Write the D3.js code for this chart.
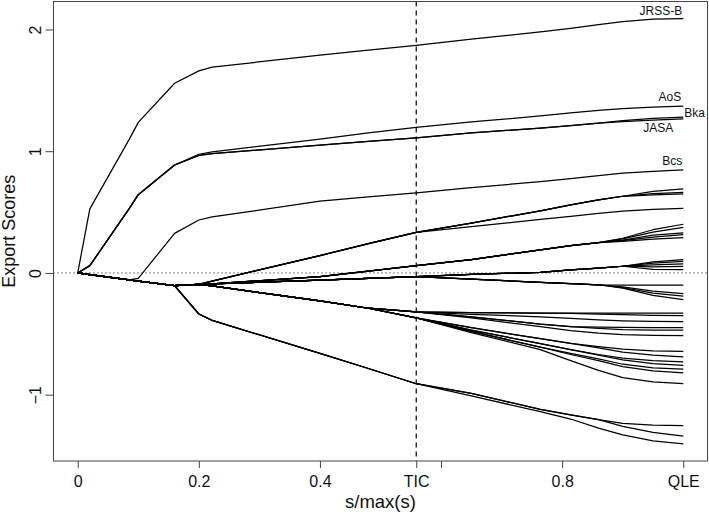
<!DOCTYPE html>
<html>
<head>
<meta charset="utf-8">
<script src="https://cdn.jsdelivr.net/npm/d3@7"></script>
<style>
  html, body { margin: 0; padding: 0; background: #fff; }
  svg { display: block; font-family: "Liberation Sans", Arial, Helvetica, sans-serif; }
</style>
</head>
<body>
<svg id="chart" width="709" height="514"></svg>
<script>
// ---- data ----
const sKnots = [0, 0.02, 0.085, 0.1, 0.16, 0.2, 0.222, 0.4, 0.48, 0.559, 0.65, 0.764, 0.814, 0.86, 0.9, 0.95, 1.0];

const labelledNames = ["JRSS-B", "AoS", "Bka", "JASA", "Bcs"];
const labelledValues = [
  [0, 0.526, 1.097, 1.237, 1.558, 1.66, 1.69, 1.79, 1.83, 1.87, 1.92, 1.98, 2.01, 2.04, 2.065, 2.085, 2.09],
  [0, 0.06, 0.528, 0.643, 0.887, 0.975, 0.995, 1.10, 1.15, 1.195, 1.24, 1.29, 1.315, 1.335, 1.35, 1.363, 1.37],
  [0, 0.06, 0.528, 0.643, 0.887, 0.965, 0.98, 1.05, 1.08, 1.11, 1.15, 1.19, 1.21, 1.23, 1.252, 1.27, 1.28],
  [0, 0.06, 0.528, 0.643, 0.887, 0.965, 0.98, 1.05, 1.08, 1.11, 1.15, 1.19, 1.21, 1.23, 1.243, 1.256, 1.265],
  [0, -0.013, -0.057, -0.044, 0.325, 0.435, 0.46, 0.59, 0.625, 0.657, 0.70, 0.75, 0.775, 0.80, 0.82, 0.835, 0.846]
];

const otherValues = [
  // rising through TIC at 0.33
  [0, -0.013, -0.057, -0.067, -0.105, -0.093, -0.067, 0.143, 0.24, 0.334, 0.41, 0.51, 0.56, 0.60, 0.63, 0.67, 0.69],
  [0, -0.013, -0.057, -0.067, -0.105, -0.093, -0.067, 0.143, 0.24, 0.334, 0.41, 0.51, 0.56, 0.60, 0.63, 0.652, 0.662],
  [0, -0.013, -0.057, -0.067, -0.105, -0.093, -0.067, 0.143, 0.24, 0.334, 0.41, 0.51, 0.56, 0.60, 0.63, 0.642, 0.649],
  [0, -0.013, -0.057, -0.067, -0.105, -0.093, -0.067, 0.143, 0.24, 0.334, 0.38, 0.44, 0.465, 0.49, 0.508, 0.522, 0.53],
  // rising through TIC at 0.06
  [0, -0.013, -0.057, -0.067, -0.105, -0.093, -0.09, -0.03, 0.015, 0.06, 0.11, 0.19, 0.225, 0.25, 0.285, 0.355, 0.40],
  [0, -0.013, -0.057, -0.067, -0.105, -0.093, -0.09, -0.03, 0.015, 0.06, 0.11, 0.19, 0.225, 0.25, 0.28, 0.335, 0.375],
  [0, -0.013, -0.057, -0.067, -0.105, -0.093, -0.09, -0.03, 0.015, 0.06, 0.11, 0.19, 0.225, 0.25, 0.27, 0.31, 0.33],
  [0, -0.013, -0.057, -0.067, -0.105, -0.093, -0.09, -0.03, 0.015, 0.06, 0.11, 0.19, 0.225, 0.25, 0.265, 0.295, 0.315],
  [0, -0.013, -0.057, -0.067, -0.105, -0.093, -0.09, -0.03, 0.015, 0.06, 0.11, 0.19, 0.225, 0.25, 0.26, 0.278, 0.29],
  // near zero, positive ends
  [0, -0.013, -0.057, -0.067, -0.105, -0.093, -0.09, -0.06, -0.045, -0.03, -0.012, 0.005, 0.025, 0.04, 0.055, 0.09, 0.11],
  [0, -0.013, -0.057, -0.067, -0.105, -0.093, -0.09, -0.06, -0.045, -0.03, -0.012, 0.005, 0.025, 0.04, 0.055, 0.08, 0.095],
  [0, -0.013, -0.057, -0.067, -0.105, -0.093, -0.09, -0.06, -0.045, -0.03, -0.012, 0.005, 0.025, 0.04, 0.055, 0.066, 0.074],
  [0, -0.013, -0.057, -0.067, -0.105, -0.093, -0.09, -0.06, -0.045, -0.03, -0.012, 0.005, 0.025, 0.04, 0.055, 0.05, 0.054],
  [0, -0.013, -0.057, -0.067, -0.105, -0.093, -0.09, -0.06, -0.045, -0.03, -0.012, 0.005, 0.025, 0.04, 0.055, 0.03, 0.027],
  // near zero, negative ends
  [0, -0.013, -0.057, -0.067, -0.105, -0.093, -0.09, -0.06, -0.045, -0.03, -0.05, -0.077, -0.088, -0.097, -0.10, -0.10, -0.10],
  [0, -0.013, -0.057, -0.067, -0.105, -0.093, -0.09, -0.06, -0.045, -0.03, -0.05, -0.077, -0.088, -0.097, -0.115, -0.15, -0.17],
  [0, -0.013, -0.057, -0.067, -0.105, -0.093, -0.09, -0.06, -0.045, -0.03, -0.05, -0.077, -0.088, -0.097, -0.12, -0.165, -0.19],
  [0, -0.013, -0.057, -0.067, -0.105, -0.093, -0.09, -0.06, -0.045, -0.03, -0.05, -0.077, -0.088, -0.097, -0.125, -0.185, -0.22],
  // middle negative group
  [0, -0.013, -0.057, -0.067, -0.105, -0.093, -0.107, -0.23, -0.29, -0.32, -0.325, -0.33, -0.33, -0.33, -0.33, -0.33, -0.33],
  [0, -0.013, -0.057, -0.067, -0.105, -0.093, -0.107, -0.23, -0.29, -0.32, -0.325, -0.33, -0.333, -0.338, -0.343, -0.348, -0.35],
  [0, -0.013, -0.057, -0.067, -0.105, -0.093, -0.107, -0.23, -0.29, -0.32, -0.34, -0.36, -0.373, -0.385, -0.393, -0.398, -0.40],
  [0, -0.013, -0.057, -0.067, -0.105, -0.093, -0.107, -0.23, -0.29, -0.32, -0.36, -0.42, -0.44, -0.445, -0.448, -0.45, -0.45],
  [0, -0.013, -0.057, -0.067, -0.105, -0.093, -0.107, -0.23, -0.29, -0.32, -0.36, -0.42, -0.44, -0.455, -0.465, -0.47, -0.47],
  [0, -0.013, -0.057, -0.067, -0.105, -0.093, -0.107, -0.23, -0.29, -0.32, -0.37, -0.44, -0.474, -0.495, -0.507, -0.513, -0.515],
  [0, -0.013, -0.057, -0.067, -0.105, -0.093, -0.107, -0.23, -0.29, -0.37, -0.45, -0.54, -0.578, -0.605, -0.625, -0.64, -0.645],
  [0, -0.013, -0.057, -0.067, -0.105, -0.093, -0.107, -0.23, -0.29, -0.37, -0.45, -0.54, -0.578, -0.615, -0.65, -0.675, -0.69],
  [0, -0.013, -0.057, -0.067, -0.105, -0.093, -0.107, -0.23, -0.29, -0.37, -0.47, -0.58, -0.63, -0.67, -0.70, -0.72, -0.73],
  [0, -0.013, -0.057, -0.067, -0.105, -0.093, -0.107, -0.23, -0.29, -0.37, -0.47, -0.58, -0.63, -0.675, -0.715, -0.745, -0.76],
  [0, -0.013, -0.057, -0.067, -0.105, -0.093, -0.107, -0.23, -0.29, -0.37, -0.48, -0.61, -0.66, -0.705, -0.75, -0.78, -0.79],
  [0, -0.013, -0.057, -0.067, -0.105, -0.093, -0.107, -0.23, -0.29, -0.37, -0.48, -0.61, -0.67, -0.72, -0.77, -0.805, -0.82],
  [0, -0.013, -0.057, -0.067, -0.105, -0.093, -0.107, -0.23, -0.29, -0.37, -0.49, -0.63, -0.72, -0.80, -0.86, -0.895, -0.91],
  // bottom group
  [0, -0.013, -0.057, -0.067, -0.105, -0.337, -0.39, -0.66, -0.785, -0.91, -0.99, -1.12, -1.165, -1.205, -1.235, -1.25, -1.255],
  [0, -0.013, -0.057, -0.067, -0.105, -0.337, -0.39, -0.66, -0.785, -0.91, -0.99, -1.12, -1.165, -1.205, -1.26, -1.31, -1.34],
  [0, -0.013, -0.057, -0.067, -0.105, -0.337, -0.39, -0.66, -0.785, -0.91, -1.01, -1.14, -1.2, -1.275, -1.33, -1.38, -1.405]
];

const xTickValues = [0, 0.2, 0.4, 0.6, 0.8, 1];
const xTickLabels = ["0", "0.2", "0.4", "", "0.8", "QLE"];
const ticValue = 0.559;
const ticLabel = "TIC";
const yTickValues = [-1, 0, 1, 2];
const yTickLabels = ["\u22121", "0", "1", "2"];
const xTitle = "s/max(s)";
const yTitle = "Export Scores";

// ---- layout ----
const svg = d3.select("#chart");
const L = 53.5, R = 707.5, T = 1.5, B = 461;

const allValues = labelledValues.concat(otherValues);
const yMin = d3.min(allValues, a => d3.min(a));
const yMax = d3.max(allValues, a => d3.max(a));
const yPad = (yMax - yMin) * 0.04;
const x = d3.scaleLinear().domain([-0.04, 1.04]).range([L, R]);
const y = d3.scaleLinear().domain([yMin - yPad, yMax + yPad]).range([B, T]);

const line = d3.line().x((d, i) => x(sKnots[i])).y(d => y(d));

const ink = "#000";
const fontFam = "'Liberation Sans', Arial, Helvetica, sans-serif";

// reference lines
svg.append("line")
  .attr("x1", L).attr("x2", R).attr("y1", y(0)).attr("y2", y(0))
  .attr("stroke", "#000").attr("stroke-width", 1).attr("stroke-dasharray", "1,3");
svg.append("line")
  .attr("x1", x(ticValue)).attr("x2", x(ticValue)).attr("y1", T).attr("y2", B)
  .attr("stroke", "#000").attr("stroke-width", 1.2).attr("stroke-dasharray", "5,4");

// paths
svg.append("g").selectAll("path")
  .data(allValues)
  .join("path")
  .attr("d", line)
  .attr("fill", "none")
  .attr("stroke", ink)
  .attr("stroke-width", 1.25)
  .attr("stroke-linejoin", "round");

// box
svg.append("rect")
  .attr("x", L).attr("y", T).attr("width", R - L).attr("height", B - T)
  .attr("fill", "none").attr("stroke", "#444").attr("stroke-width", 1);

// x axis
const xAxis = d3.axisBottom(x).tickValues(xTickValues)
  .tickFormat((d, i) => xTickLabels[i]).tickSize(7).tickPadding(8);
const gx = svg.append("g").attr("transform", `translate(0,${B})`).call(xAxis);
gx.select(".domain").remove();
gx.selectAll("line").attr("stroke", "#444");
gx.selectAll("text").attr("font-size", 16).attr("fill", "#111").attr("font-family", fontFam);

const ticAxis = d3.axisBottom(x).tickValues([ticValue]).tickFormat(() => ticLabel).tickSize(7).tickPadding(8);
const gt = svg.append("g").attr("transform", `translate(0,${B})`).call(ticAxis);
gt.select(".domain").remove();
gt.selectAll("line").attr("stroke", "#444");
gt.selectAll("text").attr("font-size", 16).attr("fill", "#111").attr("font-family", fontFam);

// y axis
const yAxis = d3.axisLeft(y).tickValues(yTickValues).tickFormat((d, i) => yTickLabels[i]).tickSize(8);
const gy = svg.append("g").attr("transform", `translate(${L},0)`).call(yAxis);
gy.select(".domain").remove();
gy.selectAll("line").attr("stroke", "#444");
gy.selectAll("text")
  .attr("font-size", 16).attr("fill", "#111").attr("font-family", fontFam)
  .attr("x", null).attr("dy", null)
  .attr("text-anchor", "middle")
  .attr("transform", "translate(-13,0) rotate(-90)");

// titles
svg.append("text")
  .attr("x", (L + R) / 2).attr("y", 508)
  .attr("text-anchor", "middle").attr("font-size", 18.5).attr("fill", "#111")
  .text(xTitle);
svg.append("text")
  .attr("transform", `translate(15,${(T + B) / 2}) rotate(-90)`)
  .attr("text-anchor", "middle").attr("font-size", 18).attr("fill", "#111")
  .text(yTitle);

// series labels
const labelOffsets = [
  { dx: -1, dy: -4, anchor: "end" },
  { dx: -2, dy: -5, anchor: "end" },
  { dx: 1, dy: 0, anchor: "start" },
  { dx: -10, dy: 13.5, anchor: "end" },
  { dx: -1, dy: -5, anchor: "end" }
];
svg.append("g").selectAll("text")
  .data(labelledNames)
  .join("text")
  .attr("x", (d, i) => x(sKnots[sKnots.length - 1]) + labelOffsets[i].dx)
  .attr("y", (d, i) => y(labelledValues[i][labelledValues[i].length - 1]) + labelOffsets[i].dy)
  .attr("text-anchor", (d, i) => labelOffsets[i].anchor)
  .attr("font-size", 12).attr("fill", "#111")
  .text(d => d);
</script>
</body>
</html>
